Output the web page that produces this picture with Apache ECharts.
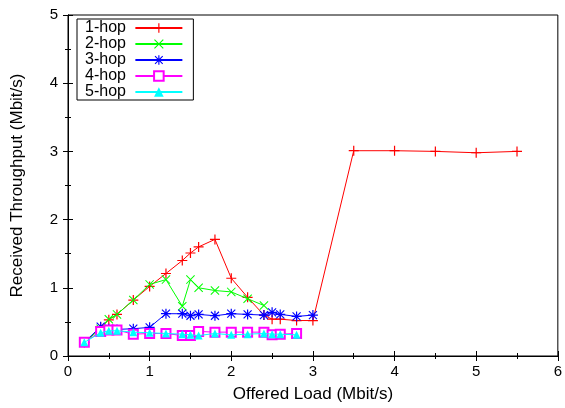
<!DOCTYPE html>
<html><head><meta charset="utf-8">
<script src="https://cdn.jsdelivr.net/npm/echarts@6/dist/echarts.min.js"></script>
<style>html,body{margin:0;padding:0;background:#fff}#c{width:565px;height:408px}</style>
</head><body><div id="c"></div>
<script>
const seriesNames = ['1-hop','2-hop','3-hop','4-hop','5-hop'];
const hop1X = [0.2,0.4,0.5,0.6,0.8,1.0,1.2,1.4,1.5,1.6,1.8,2.0,2.2,2.4,2.5,2.6,2.8,3.0,3.5,4.0,4.5,5.0,5.5];
const hop1Y = [0.2,0.42,0.53,0.61,0.82,1.02,1.21,1.40,1.51,1.60,1.71,1.14,0.86,0.60,0.54,0.54,0.52,0.52,3.01,3.01,3.00,2.98,3.00];
const hop2X = [0.2,0.4,0.5,0.6,0.8,1.0,1.2,1.4,1.5,1.6,1.8,2.0,2.2,2.4];
const hop2Y = [0.2,0.40,0.54,0.61,0.82,1.05,1.12,0.73,1.12,1.00,0.96,0.94,0.84,0.74];
const hop3X = [0.2,0.4,0.5,0.6,0.8,1.0,1.2,1.4,1.5,1.6,1.8,2.0,2.2,2.4,2.5,2.6,2.8,3.0];
const hop3Y = [0.2,0.43,0.40,0.39,0.40,0.42,0.62,0.62,0.59,0.61,0.59,0.62,0.61,0.60,0.64,0.61,0.58,0.60];
const hop4X = [0.2,0.4,0.5,0.6,0.8,1.0,1.2,1.4,1.5,1.6,1.8,2.0,2.2,2.4,2.5,2.6,2.8];
const hop4Y = [0.2,0.36,0.38,0.38,0.32,0.33,0.33,0.30,0.30,0.36,0.35,0.35,0.35,0.35,0.31,0.32,0.33];
const hop5X = [0.2,0.4,0.5,0.6,0.8,1.0,1.2,1.4,1.5,1.6,1.8,2.0,2.2,2.4,2.5,2.6,2.8];
const hop5Y = [0.2,0.34,0.37,0.37,0.35,0.34,0.33,0.32,0.31,0.30,0.33,0.31,0.32,0.33,0.32,0.32,0.31];
const xTicks = [0,1,2,3,4,5,6];
const yTicks = [0,1,2,3,4,5];

const colors = ['#ff0000','#00ff00','#0000ff','#ff00ff','#00ffff'];
const PLUS = 'path://M4.4,0 L5.6,0 L5.6,4.4 L10,4.4 L10,5.6 L5.6,5.6 L5.6,10 L4.4,10 L4.4,5.6 L0,5.6 L0,4.4 L4.4,4.4 Z';
const CROSS = 'path://M0,0.8 L0.8,0 L10,9.2 L9.2,10 Z M9.2,0 L10,0.8 L0.8,10 L0,9.2 Z';
const STAR = 'path://M4.4,0 L5.6,0 L5.6,4.4 L10,4.4 L10,5.6 L5.6,5.6 L5.6,10 L4.4,10 L4.4,5.6 L0,5.6 L0,4.4 L4.4,4.4 Z M0.6,1.4 L1.4,0.6 L9.4,8.6 L8.6,9.4 Z M8.6,0.6 L9.4,1.4 L1.4,9.4 L0.6,8.6 Z';
const symbols = [PLUS, CROSS, STAR, 'emptyRect', 'triangle'];
const sizes = [10, 9, 10, 9, 8];
const borders = [0, 0, 0, 1, 0];
const xs = [hop1X,hop2X,hop3X,hop4X,hop5X];
const ys = [hop1Y,hop2Y,hop3Y,hop4Y,hop5Y];

const font = 'Liberation Sans';
const series = seriesNames.map((n,i)=>({
  name:n, type:'line', xAxisIndex:0, yAxisIndex:0,
  data: xs[i].map((x,j)=>[x, ys[i][j]]),
  symbol: symbols[i], symbolSize: sizes[i], showAllSymbol:true, symbolKeepAspect:true,
  lineStyle:{color:colors[i], width:1},
  itemStyle:{color:colors[i], borderColor:colors[i], borderWidth:borders[i]},
  emphasis:{disabled:true}, animation:false, z: 2+i
}));

const tickInside = {show:true, inside:true, length:5, lineStyle:{color:'#000'}};
const minorInside = {show:true, splitNumber:2, length:3, lineStyle:{color:'#000'}};
const chart = echarts.init(document.getElementById('c'));
chart.setOption({
  backgroundColor:'#fff',
  animation:false,
  grid:{left:68, right:3, top:15, bottom:52, show:true, borderColor:'#000', borderWidth:1},
  legend:{
    left:77, top:19, orient:'vertical', align:'right',
    backgroundColor:'#fff', borderColor:'#000', borderWidth:1, borderRadius:0,
    padding:[1,10,0,8], itemGap:0, itemWidth:47, itemHeight:12,
    textStyle:{fontFamily:font, fontSize:16, color:'#000', lineHeight:16},
    formatter: n => n + ' ',
    data: seriesNames
  },
  xAxis:[{
    type:'value', min:0, max:6, interval:1, position:'bottom',
    name:'Offered Load (Mbit/s)', nameLocation:'middle', nameGap:30,
    nameTextStyle:{fontFamily:font, fontSize:17, color:'#000'},
    axisLine:{show:true, lineStyle:{color:'#000'}},
    axisTick:tickInside, minorTick:minorInside,
    axisLabel:{fontFamily:font, fontSize:15, color:'#000', margin:8,
      formatter:v=>xTicks.includes(v)?String(v):''},
    splitLine:{show:false}
  },{
    type:'value', min:0, max:6, interval:1, position:'top',
    axisLine:{show:true, lineStyle:{color:'#000'}},
    axisTick:tickInside, minorTick:minorInside, axisLabel:{show:false}, splitLine:{show:false}
  }],
  yAxis:[{
    type:'value', min:0, max:5, interval:1, position:'left',
    name:'Received Throughput (Mbit/s)', nameLocation:'middle', nameGap:42,
    nameTextStyle:{fontFamily:font, fontSize:17, color:'#000'},
    axisLine:{show:true, lineStyle:{color:'#000'}},
    axisTick:tickInside, minorTick:minorInside,
    axisLabel:{fontFamily:font, fontSize:15, color:'#000', margin:10,
      formatter:v=>yTicks.includes(v)?String(v):''},
    splitLine:{show:false}
  },{
    type:'value', min:0, max:5, interval:1, position:'right',
    axisLine:{show:true, lineStyle:{color:'#000'}},
    axisTick:tickInside, minorTick:minorInside, axisLabel:{show:false}, splitLine:{show:false}
  }],
  series: series
});
</script></body></html>
